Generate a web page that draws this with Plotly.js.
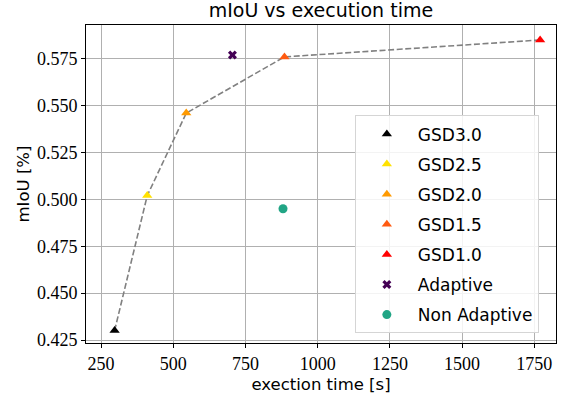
<!DOCTYPE html>
<html>
<head>
<meta charset="utf-8">
<script src="https://cdn.plot.ly/plotly-3.0.1.min.js"></script>
<style>html,body{margin:0;padding:0;background:#fff;}#chart{width:570px;height:403px;}</style>
</head>
<body>
<div id="chart"></div>
<script>
const gsdNames = ["GSD3.0", "GSD2.5", "GSD2.0", "GSD1.5", "GSD1.0"];
const gsdTime = [297, 410, 545, 885, 1770];
const gsdMiou = [0.430, 0.502, 0.546, 0.576, 0.585];
const gsdColors = ["#000000", "#ffe100", "#ff9a00", "#ff5a10", "#ff0000"];
const adaptiveTime = [705];
const adaptiveMiou = [0.577];
const nonAdaptiveTime = [880];
const nonAdaptiveMiou = [0.495];
const xTicks = [250, 500, 750, 1000, 1250, 1500, 1750];
const yTicks = [0.425, 0.450, 0.475, 0.500, 0.525, 0.550, 0.575];

const traces = [];
traces.push({
  x: gsdTime, y: gsdMiou, mode: "lines", type: "scatter",
  line: {color: "#808080", dash: "6px,2.6px", width: 1.6, shape: "linear"},
  showlegend: false, hoverinfo: "skip"
});
gsdNames.forEach((n, i) => {
  traces.push({
    x: [gsdTime[i]], y: [gsdMiou[i]], mode: "markers", type: "scatter", name: n,
    legendgroup: n,
    marker: {symbol: "triangle-up", size: 9, color: gsdColors[i]}
  });
});
traces.push({
  x: adaptiveTime, y: adaptiveMiou, mode: "markers", type: "scatter", name: "Adaptive",
  legendgroup: "Adaptive",
  marker: {symbol: "x", size: 8, color: "#440154"}
});
traces.push({
  x: nonAdaptiveTime, y: nonAdaptiveMiou, mode: "markers", type: "scatter", name: "Non Adaptive",
  legendgroup: "Non Adaptive",
  marker: {symbol: "circle", size: 9, color: "#21a585"}
});

const tickFont = {family: "Liberation Serif, serif", size: 18, color: "#000"};
const labelFont = {family: "DejaVu Sans, sans-serif", size: 16.5, color: "#000"};

const layout = {
  width: 570, height: 403,
  margin: {l: 86, r: 14, t: 25, b: 60},
  paper_bgcolor: "#fff", plot_bgcolor: "#fff",
  title: {text: "mIoU vs execution time", font: {family: "DejaVu Sans, sans-serif", size: 19, color: "#000"}, x: 0.563, xanchor: "center", y: 0.99, yanchor: "top"},
  xaxis: {
    range: [198, 1825], tickvals: xTicks, ticktext: xTicks.map(String),
    showgrid: true, gridcolor: "#b0b0b0", gridwidth: 1,
    showline: true, linecolor: "#000", linewidth: 1, mirror: true,
    ticks: "outside", ticklen: 4, tickcolor: "#000", zeroline: false,
    tickfont: tickFont,
    title: {text: "exection time [s]", font: labelFont, standoff: 5}
  },
  yaxis: {
    range: [0.4234, 0.593], tickvals: yTicks, ticktext: yTicks.map(v => v.toFixed(3)),
    showgrid: true, gridcolor: "#b0b0b0", gridwidth: 1,
    showline: true, linecolor: "#000", linewidth: 1, mirror: true,
    ticks: "outside", ticklen: 4, tickcolor: "#000", zeroline: false,
    tickfont: tickFont,
    title: {text: "mIoU [%]", font: labelFont, standoff: 3}
  },
  legend: {
    x: 0.572, y: 0.03, xanchor: "left", yanchor: "bottom",
    xref: "paper", yref: "paper",
    bgcolor: "rgba(255,255,255,0.85)", bordercolor: "#d5d5d5", borderwidth: 1,
    font: {family: "DejaVu Sans, sans-serif", size: 17, color: "#000"},
    traceorder: "grouped", tracegroupgap: 5, itemwidth: 52
  },
  showlegend: true
};

Plotly.newPlot("chart", traces, layout, {displayModeBar: false, staticPlot: true});
</script>
</body>
</html>
